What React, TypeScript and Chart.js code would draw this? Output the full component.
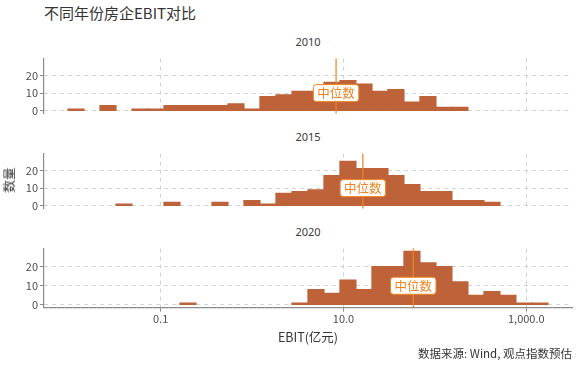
import React, { useEffect, useRef } from "react";
import { Chart, registerables } from "chart.js";

Chart.register(...registerables);

// ---- data ----
const titleText = "不同年份房企EBIT对比";
const yTitle = "数量";
const xTitle = "EBIT(亿元)";
const caption = "数据来源: Wind, 观点指数预估";
const years = ["2010", "2015", "2020"];

// histogram bin centres (log10 of EBIT, 亿元)
const binCenters = [
  -1.926, -1.751, -1.576, -1.401, -1.226, -1.051, -0.876, -0.701, -0.526, -0.351,
  -0.176, -0.001, 0.174, 0.349, 0.524, 0.699, 0.874, 1.049, 1.224, 1.399,
  1.574, 1.749, 1.924, 2.099, 2.274, 2.449, 2.624, 2.799, 2.974, 3.149,
];
const counts2010 = [1, 0, 3, 0, 1, 1, 3, 3, 3, 3, 4, 1, 8, 9, 11, 11, 16, 17, 15, 11, 12, 5, 8, 2, 2, 0, 0, 0, 0, 0];
const counts2015 = [0, 0, 0, 1, 0, 0, 2, 0, 0, 2, 0, 3, 1, 7, 8, 9, 17, 25, 21, 21, 17, 12, 8, 8, 3, 3, 2, 0, 0, 0];
const counts2020 = [0, 0, 0, 0, 0, 0, 0, 1, 0, 0, 0, 0, 0, 0, 1, 8, 6, 13, 8, 20, 20, 28, 22, 20, 12, 5, 7, 5, 1, 1];
const medians = [8.3, 16.3, 58];
const medianLabel = "中位数";
const medianLabelY = 10;
const yTicks = [0, 10, 20];
const xTickValues = [0.1, 10, 1000];
const xTickLabels = ["0.1", "10.0", "1,000.0"];

// ---- style / layout ----
const FONT = '"Noto Sans CJK SC", "Noto Sans", sans-serif';
const STRIP_FONT = '"Noto Sans", "Noto Sans CJK SC", sans-serif';
const BAR = "#BE6239";
const ORANGE = "#F2831F";
const GRID = "#d2d2d2";
const AXIS = "#8a8a8a";
const TEXT = "#333333";
const TICK_TEXT = "#4d4d4d";
const PLOT_LEFT = 44;
const PLOT_RIGHT = 572;
const PLOT_H = 63.6;
const PANEL_TOPS = [54, 149, 244];
const PAD = 4;
const X_AXIS_H = 24;
const X_MIN = -2.276;
const X_MAX = 3.5;
const Y_MIN = -1.4;
const Y_MAX = 29.4;

const allCounts = [counts2010, counts2015, counts2020];

function Panel({ idx }: { idx: number }) {
  const ref = useRef<HTMLCanvasElement | null>(null);
  const bottom = idx === 2;
  const canvasH = bottom ? Math.ceil(PAD + PLOT_H + X_AXIS_H) : Math.ceil(PAD + PLOT_H + PAD);
  const padBottom = canvasH - PAD - PLOT_H - (bottom ? X_AXIS_H : 0);

  useEffect(() => {
    if (!ref.current) return;
    const counts = allCounts[idx];
    const median = medians[idx];
    const medianPlugin = {
      id: "median" + idx,
      afterDatasetsDraw(chart: any) {
        const { ctx, chartArea, scales } = chart;
        const x = scales.x.getPixelForValue(Math.log10(median));
        const y = scales.y.getPixelForValue(medianLabelY);
        ctx.save();
        ctx.strokeStyle = ORANGE;
        ctx.lineWidth = 1.2;
        ctx.beginPath();
        ctx.moveTo(x, chartArea.top);
        ctx.lineTo(x, chartArea.bottom);
        ctx.stroke();
        ctx.font = `12.5px ${FONT}`;
        const tw = ctx.measureText(medianLabel).width;
        const w = tw + 8;
        const h = 17;
        const bx = x - w / 2;
        const by = y - h / 2;
        ctx.beginPath();
        if ((ctx as any).roundRect) (ctx as any).roundRect(bx, by, w, h, 3);
        else ctx.rect(bx, by, w, h);
        ctx.fillStyle = "#ffffff";
        ctx.fill();
        ctx.strokeStyle = ORANGE;
        ctx.lineWidth = 1;
        ctx.stroke();
        ctx.fillStyle = ORANGE;
        ctx.textAlign = "center";
        ctx.textBaseline = "middle";
        ctx.fillText(medianLabel, x, y + 0.5);
        ctx.restore();
      },
    };

    const chart = new Chart(ref.current, {
      type: "bar",
      data: {
        datasets: [
          {
            data: binCenters.map((c, i) => ({ x: c, y: counts[i] === 0 ? null : counts[i] })) as any,
            backgroundColor: BAR,
            borderWidth: 0,
            inflateAmount: 0.6,
            barPercentage: 1,
            categoryPercentage: 1,
          },
        ],
      },
      options: {
        animation: false,
        responsive: false,
        maintainAspectRatio: false,
        devicePixelRatio: 1,
        layout: { padding: { left: 0, right: 580 - PLOT_RIGHT, top: PAD, bottom: padBottom } },
        plugins: { legend: { display: false }, tooltip: { enabled: false }, title: { display: false } },
        scales: {
          x: {
            type: "linear",
            min: X_MIN,
            max: X_MAX,
            offset: false,
            afterBuildTicks: (s: any) => {
              s.ticks = xTickValues.map((v) => ({ value: Math.log10(v) }));
            },
            afterFit: (s: any) => {
              s.height = bottom ? X_AXIS_H : 0;
            },
            ticks: {
              display: bottom,
              color: TICK_TEXT,
              font: { size: 11, family: FONT },
              padding: 1,
              maxRotation: 0,
              autoSkip: false,
              callback: (v: any) => {
                const i = xTickValues.findIndex((t) => Math.abs(Math.log10(t) - Number(v)) < 1e-6);
                return i >= 0 ? xTickLabels[i] : "";
              },
            },
            grid: { offset: false, color: GRID, lineWidth: 1, drawTicks: bottom, tickLength: 4, tickColor: AXIS },
            border: { display: bottom, color: AXIS, width: 1.2, dash: [4, 4] },
          },
          y: {
            type: "linear",
            min: Y_MIN,
            max: Y_MAX,
            afterBuildTicks: (s: any) => {
              s.ticks = yTicks.map((v) => ({ value: v }));
            },
            afterFit: (s: any) => {
              s.width = PLOT_LEFT;
            },
            ticks: { color: TICK_TEXT, font: { size: 11, family: FONT }, padding: 2 },
            grid: { color: GRID, lineWidth: 1, drawTicks: true, tickLength: 4, tickColor: AXIS },
            border: { display: true, color: AXIS, width: 1.2, dash: [4, 4] },
          },
        },
      },
      plugins: [medianPlugin],
    } as any);
    return () => chart.destroy();
  }, [idx]);

  return (
    <canvas
      ref={ref}
      width={580}
      height={canvasH}
      style={{ position: "absolute", left: 0, top: PANEL_TOPS[idx] - PAD, width: 580, height: canvasH }}
    />
  );
}

export default function App() {
  useEffect(() => {
    document.body.style.margin = "0";
  }, []);
  const base: React.CSSProperties = { position: "absolute", fontFamily: FONT, color: TEXT, whiteSpace: "nowrap", fontWeight: 400 };
  return (
    <div style={{ position: "absolute", left: 0, top: 0, width: 580, height: 367, background: "#fff", overflow: "hidden" }}>
      <div style={{ ...base, left: 44, top: 3, fontSize: 15, lineHeight: "20px" }}>{titleText}</div>
      {years.map((y, i) => (
        <div
          key={y}
          style={{ ...base, fontFamily: STRIP_FONT, left: PLOT_LEFT, width: PLOT_RIGHT - PLOT_LEFT, top: PANEL_TOPS[i] - 19, fontSize: 11, lineHeight: "14px", textAlign: "center", color: "#3a3a3a" }}
        >
          {y}
        </div>
      ))}
      {[0, 1, 2].map((i) => (
        <Panel key={i} idx={i} />
      ))}
      <div
        style={{ ...base, left: 9, top: 180, fontSize: 12.5, lineHeight: "14px", transform: "translate(-50%, -50%) rotate(-90deg)" }}
      >
        {yTitle}
      </div>
      <div style={{ ...base, left: PLOT_LEFT, width: PLOT_RIGHT - PLOT_LEFT, top: 329, fontSize: 12.5, lineHeight: "16px", textAlign: "center" }}>
        {xTitle}
      </div>
      <div style={{ ...base, right: 580 - PLOT_RIGHT, top: 346, fontSize: 11.5, lineHeight: "15px", textAlign: "right" }}>
        {caption}
      </div>
    </div>
  );
}
